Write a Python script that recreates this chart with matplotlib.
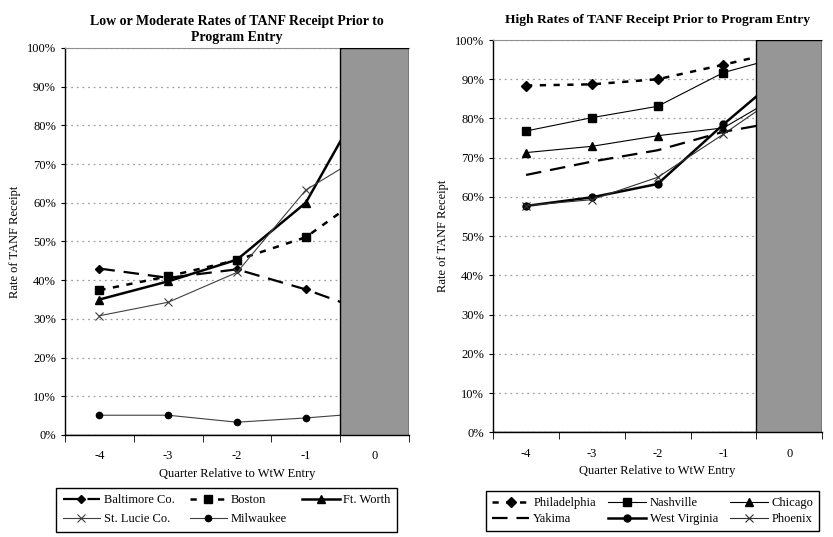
import matplotlib.pyplot as plt
from matplotlib.ticker import PercentFormatter

plt.rcParams['font.family'] = ['Liberation Serif', 'DejaVu Serif']

quarters = ['-4', '-3', '-2', '-1', '0']

# left panel: low or moderate rates (percent)
baltimore = [43.0, 40.6, 42.8, 37.6, 31.2]
boston = [37.4, 41.0, 45.2, 51.1, 63.8]
ft_worth = [35.0, 39.7, 45.3, 60.0, 91.6]
st_lucie = [30.8, 34.3, 42.0, 63.3, 74.1]
milwaukee = [5.1, 5.1, 3.3, 4.4, 5.8]

# right panel: high rates (percent)
philadelphia = [88.4, 88.7, 90.0, 93.7, 97.6]
nashville = [76.8, 80.2, 83.1, 91.7, 96.3]
chicago = [71.3, 72.9, 75.6, 77.6, 87.4]
yakima = [65.6, 69.0, 71.9, 76.6, 79.6]
west_virginia = [57.7, 59.9, 63.3, 78.5, 92.7]
phoenix = [57.8, 59.3, 65.0, 76.0, 87.6]

entry_bar = [0, 0, 0, 0, 100]

fig = plt.figure(figsize=(8.33, 5.37), dpi=100)
ax1 = fig.add_axes([0.078, 0.19, 0.413, 0.7207])
ax2 = fig.add_axes([0.592, 0.195, 0.395, 0.7305])

x = list(range(len(quarters)))


def setup(ax, title, tsize, tpad):
    ax.bar(x, entry_bar, width=1.0, color='#969696', edgecolor='black',
           linewidth=1.0, zorder=5)
    ax.set_xlim(-0.5, 4.5)
    ax.set_ylim(0, 100)
    ax.set_yticks(range(0, 101, 10))
    ax.yaxis.set_major_formatter(PercentFormatter(decimals=0))
    ax.set_xticks(x)
    ax.set_xticklabels(quarters)
    ax.set_xticks([i - 0.5 for i in range(6)], minor=True)
    ax.tick_params(axis='x', which='major', length=0, pad=11, labelsize=9)
    ax.tick_params(axis='x', which='minor', length=5, direction='out')
    ax.tick_params(axis='y', length=3, direction='out', labelsize=9)
    ax.grid(axis='y', color='#a0a0a0', linestyle=(0, (1.5, 3)), linewidth=0.9)
    ax.set_axisbelow(True)
    ax.spines['right'].set_visible(False)
    ax.spines['top'].set_color('#909090')
    ax.spines['left'].set_linewidth(1.0)
    ax.spines['bottom'].set_linewidth(1.0)
    ax.set_ylabel('Rate of TANF Receipt', fontsize=9, labelpad=4)
    ax.set_xlabel('Quarter Relative to WtW Entry', fontsize=9, labelpad=4)
    ax.set_title(title, fontsize=tsize, fontweight='bold', pad=tpad,
                 linespacing=1.35)


setup(ax1, 'Low or Moderate Rates of TANF Receipt Prior to\nProgram Entry', 10, 5)
setup(ax2, 'High Rates of TANF Receipt Prior to Program Entry', 9.7, 12)

l_bal, = ax1.plot(x, baltimore, color='black', lw=1.6, ls=(0, (7, 4)),
                  marker='D', ms=4.5, label='Baltimore Co.')
l_bos, = ax1.plot(x, boston, color='black', lw=1.8, ls=(0, (2.5, 3)),
                  marker='s', ms=5.5, label='Boston')
l_ftw, = ax1.plot(x, ft_worth, color='black', lw=1.8,
                  marker='^', ms=6, label='Ft. Worth')
l_stl, = ax1.plot(x, st_lucie, color='#404040', lw=0.8,
                  marker='x', ms=6, mew=0.8, label='St. Lucie Co.')
l_mil, = ax1.plot(x, milwaukee, color='#404040', lw=0.8,
                  marker='o', ms=4.5, mfc='black', mec='black', label='Milwaukee')

ax1.legend(handles=[l_bal, l_stl, l_bos, l_mil, l_ftw], ncol=3,
           loc='upper center', bbox_to_anchor=(0.47, -0.12), fontsize=9,
           frameon=True, fancybox=False, edgecolor='black', framealpha=1,
           handlelength=3, columnspacing=1.2, borderpad=0.5,
           labelspacing=0.6, handletextpad=0.3)

l_phi, = ax2.plot(x, philadelphia, color='black', lw=1.8, ls=(0, (2.5, 3)),
                  marker='D', ms=5, label='Philadelphia')
l_nas, = ax2.plot(x, nashville, color='black', lw=0.8,
                  marker='s', ms=5.5, label='Nashville')
l_chi, = ax2.plot(x, chicago, color='black', lw=0.8,
                  marker='^', ms=6, label='Chicago')
l_yak, = ax2.plot(x, yakima, color='black', lw=1.6, ls=(0, (7, 4)),
                  label='Yakima')
l_wv, = ax2.plot(x, west_virginia, color='black', lw=1.8,
                 marker='o', ms=5, label='West Virginia')
l_pho, = ax2.plot(x, phoenix, color='#303030', lw=0.8,
                  marker='x', ms=6, mew=0.8, label='Phoenix')

ax2.legend(handles=[l_phi, l_yak, l_nas, l_wv, l_chi, l_pho], ncol=3,
           loc='upper center', bbox_to_anchor=(0.485, -0.135), fontsize=9,
           frameon=True, fancybox=False, edgecolor='black', framealpha=1,
           handlelength=3, columnspacing=1.0, borderpad=0.45,
           labelspacing=0.35, handletextpad=0.3)

fig.savefig('out.png', dpi=100)
